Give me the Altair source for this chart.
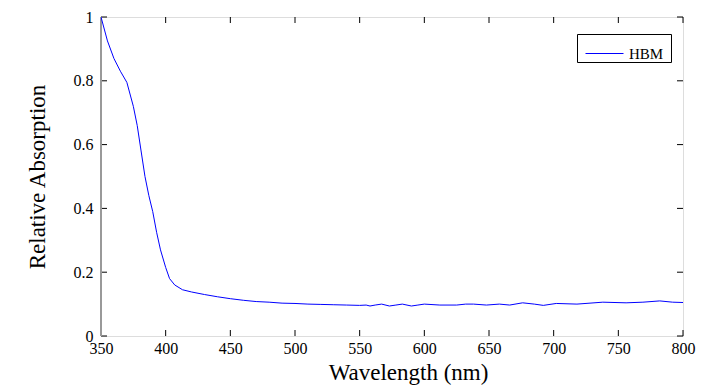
import altair as alt
import pandas as pd

wavelength = [350, 355, 360, 365, 370, 375, 378, 381, 384, 387, 390, 393, 396, 400, 403, 407,
              413, 420, 430, 440, 450, 460, 470, 480, 490, 500, 510, 520, 530, 540, 550, 555,
              558, 562, 567, 573, 578, 583, 590, 595, 600, 612, 625, 632, 638, 648, 658, 666,
              676, 685, 692, 702, 718, 738, 756, 769, 782, 792, 800]
absorption = [1.0, 0.925, 0.87, 0.83, 0.795, 0.72, 0.66, 0.58, 0.5, 0.44, 0.39, 0.325, 0.27,
              0.215, 0.18, 0.16, 0.145, 0.138, 0.13, 0.123, 0.117, 0.112, 0.108, 0.106, 0.103,
              0.102, 0.1, 0.099, 0.098, 0.097, 0.096, 0.097, 0.094, 0.097, 0.1, 0.094, 0.097,
              0.1, 0.094, 0.097, 0.1, 0.097, 0.097, 0.1, 0.1, 0.097, 0.1, 0.097, 0.104, 0.1,
              0.096, 0.102, 0.1, 0.106, 0.104, 0.106, 0.11, 0.106, 0.105]
series = ["HBM"] * len(wavelength)

x_ticks = [350, 400, 450, 500, 550, 600, 650, 700, 750, 800]
y_ticks = [0, 0.2, 0.4, 0.6, 0.8, 1]

W, H = 582, 319
FONT = "Liberation Serif"

df = pd.DataFrame({"wavelength": wavelength, "absorption": absorption, "series": series})
xt = pd.DataFrame({"v": x_ticks})
yt = pd.DataFrame({"v": y_ticks})

xscale = alt.Scale(domain=[350, 800], nice=False, zero=False)
yscale = alt.Scale(domain=[0, 1], nice=False)

line = alt.Chart(df).mark_line(strokeWidth=1, clip=True).encode(
    x=alt.X("wavelength:Q", scale=xscale, title="Wavelength (nm)",
            axis=alt.Axis(values=x_ticks, ticks=False, domain=False, grid=False,
                          labelPadding=4, labelFontSize=16, labelFont=FONT,
                          labelColor="black", titleFont=FONT, titleFontSize=23,
                          titleFontWeight="normal", titleColor="black", titlePadding=5,
                          titleX=307, labelFlush=False)),
    y=alt.Y("absorption:Q", scale=yscale, title="Relative Absorption",
            axis=alt.Axis(values=y_ticks, ticks=False, domain=False, grid=False,
                          labelPadding=8, labelFontSize=16, labelFont=FONT,
                          labelColor="black", titleFont=FONT, titleFontSize=23,
                          titleFontWeight="normal", titleColor="black", titlePadding=24,
                          labelFlush=False,
                          labelExpr="datum.value == 0 ? '0' : datum.value == 1 ? '1' : format(datum.value, '.1f')")),
    color=alt.Color("series:N", scale=alt.Scale(range=["#0000ff"]),
                    legend=alt.Legend(title=None, orient="none", legendX=476, legendY=17,
                                      symbolType="stroke", symbolSize=1444, symbolStrokeWidth=1,
                                      symbolStrokeColor="#0000ff", symbolOffset=8,
                                      labelFont=FONT, labelFontSize=15, labelColor="black",
                                      labelExpr="datum.label + '  \u200b'",
                                      strokeColor="black", fillColor="white", padding=0,
                                      labelOffset=5)),
)

tick_len = 6
bx = alt.Chart(xt).mark_rule(color="black", strokeWidth=1).encode(
    x=alt.X("v:Q", scale=xscale), y=alt.value(H - tick_len), y2=alt.value(H))
tx = alt.Chart(xt).mark_rule(color="black", strokeWidth=1).encode(
    x=alt.X("v:Q", scale=xscale), y=alt.value(0), y2=alt.value(tick_len))
ly = alt.Chart(yt).mark_rule(color="black", strokeWidth=1).encode(
    y=alt.Y("v:Q", scale=yscale), x=alt.value(0), x2=alt.value(tick_len))
ry = alt.Chart(yt).mark_rule(color="black", strokeWidth=1).encode(
    y=alt.Y("v:Q", scale=yscale), x=alt.value(W - tick_len), x2=alt.value(W))
left_spine = alt.Chart(xt).mark_rule(color="#999999", strokeWidth=2).encode(
    x=alt.value(0), y=alt.value(0), y2=alt.value(H))

chart = alt.layer(bx, tx, ly, ry, left_spine, line).properties(
    width=W, height=H,
    autosize=alt.AutoSizeParams(type="none"),
    padding={"left": 93, "top": 9, "right": 19, "bottom": 52},
).configure_view(stroke="black", strokeWidth=1).configure(background="white")

chart.save("out.html", embed_options={"renderer": "svg", "actions": False})
